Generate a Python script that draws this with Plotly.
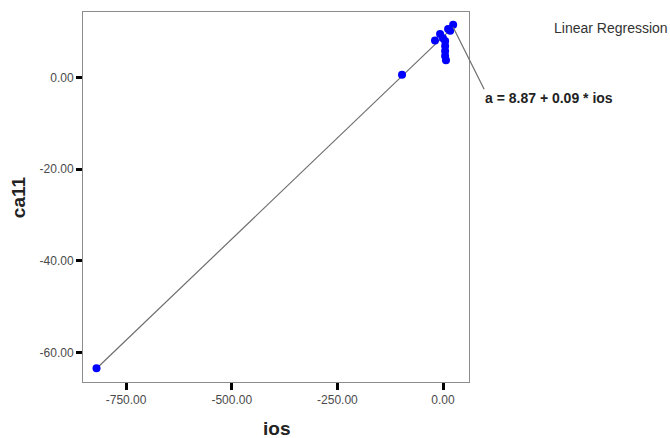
import numpy as np
import plotly.graph_objects as go

# Data
ios = [-820, -97, -19, -7, 0, 12, 17, 24, 5, 5, 5, 5, 7]
ca11 = [-63.4, 0.6, 8.1, 9.5, 8.6, 10.6, 10.2, 11.5, 8.0, 6.9, 5.8, 4.7, 3.8]

reg_intercept = 8.87
reg_slope = 0.0882
reg_label = "a = 8.87 + 0.09 * ios"

x_ticks = [-750, -500, -250, 0]
y_ticks = [-60, -40, -20, 0]

line_x = np.array([min(ios), max(ios)], dtype=float)
line_y = reg_intercept + reg_slope * line_x

fig = go.Figure()
fig.add_trace(go.Scatter(x=line_x, y=line_y, mode="lines",
                         line=dict(color="#6e6e6e", width=1.2),
                         hoverinfo="skip", showlegend=False))
fig.add_trace(go.Scatter(x=ios, y=ca11, mode="markers",
                         marker=dict(color="#0000ff", size=8),
                         showlegend=False, cliponaxis=False))

tickfont = dict(family="Liberation Sans, Arial, sans-serif", size=12, color="#4a4a4a")
axis_common = dict(showgrid=False, zeroline=False, showline=True, linecolor="#8c8c8c",
                   linewidth=1, mirror=True, ticks="outside", tickcolor="#000000",
                   tickwidth=3, tickfont=tickfont)

fig.update_xaxes(range=[-852, 61.5], tickvals=x_ticks,
                 ticktext=[f"{v:.2f}" for v in x_ticks], ticklen=7, **axis_common)
fig.update_yaxes(range=[-66.4, 14.3], tickvals=y_ticks,
                 ticktext=[f"{v:.2f}" for v in y_ticks], ticklen=6, **axis_common)

fig.add_annotation(x=line_x[1], y=line_y[1], xref="x", yref="y",
                   text="<b>" + reg_label + "</b>", showarrow=True, arrowhead=0,
                   arrowwidth=1.2, arrowcolor="#6e6e6e", ax=31, ay=62,
                   xanchor="left", yanchor="top",
                   font=dict(family="Liberation Sans, Arial, sans-serif", size=14,
                             color="#222222"), borderpad=0)
fig.add_annotation(x=1.215, y=0.957, xref="paper", yref="paper", text="Linear Regression",
                   showarrow=False, xanchor="left", yanchor="middle",
                   font=dict(family="Liberation Sans, Arial, sans-serif", size=14,
                             color="#333333"))
fig.add_annotation(x=-0.168, y=0.5, xref="paper", yref="paper", text="<b>ca11</b>",
                   showarrow=False, textangle=-90, xanchor="center", yanchor="middle",
                   font=dict(family="Liberation Sans, Arial, sans-serif", size=19,
                             color="#222222"))
fig.add_annotation(x=0.5, y=-0.125, xref="paper", yref="paper", text="<b>ios</b>",
                   showarrow=False, xanchor="center", yanchor="middle",
                   font=dict(family="Liberation Sans, Arial, sans-serif", size=19,
                             color="#222222"))

fig.update_layout(width=670, height=438, margin=dict(l=83, r=201, t=12, b=56),
                  paper_bgcolor="white", plot_bgcolor="white")

fig.write_html("out.html")
